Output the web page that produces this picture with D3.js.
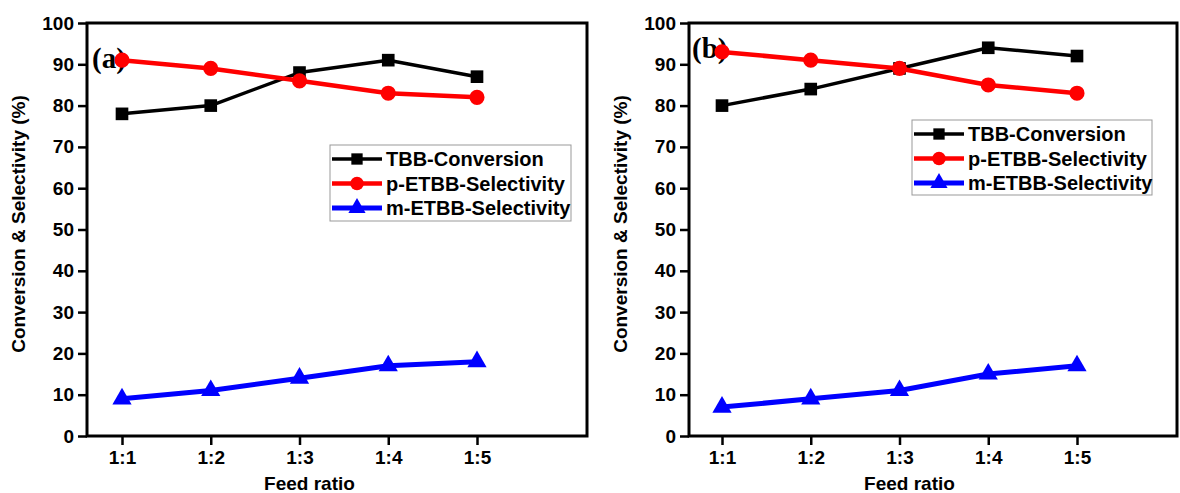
<!DOCTYPE html>
<html>
<head>
<meta charset="utf-8">
<script src="https://cdn.jsdelivr.net/npm/d3@7"></script>
<style>
  body { margin: 0; background: #fff; }
  text { font-family: "Liberation Sans", Arial, sans-serif; font-weight: bold; }
</style>
</head>
<body>
<div id="chart"></div>
<script>
// data
var ratios = ["1:1", "1:2", "1:3", "1:4", "1:5"];
var yTicks = [0, 10, 20, 30, 40, 50, 60, 70, 80, 90, 100];
var seriesNames = ["TBB-Conversion", "p-ETBB-Selectivity", "m-ETBB-Selectivity"];

var tbbA = [78, 80, 88, 91, 87];
var pEtbbA = [91, 89, 86, 83, 82];
var mEtbbA = [9, 11, 14, 17, 18];

var tbbB = [80, 84, 89, 94, 92];
var pEtbbB = [93, 91, 89, 85, 83];
var mEtbbB = [7, 9, 11, 15, 17];

var svgWidth = 1180;
var svgHeight = 493;

var svg = d3.select("#chart")
  .append("svg")
  .attr("width", svgWidth)
  .attr("height", svgHeight);

var styles = [
  { color: "#000000", width: 3.5, shape: d3.symbolSquare, size: 160 },
  { color: "#ff0000", width: 4.5, shape: d3.symbolCircle, size: 180 },
  { color: "#0000ff", width: 5, shape: d3.symbolTriangle, size: 160 }
];

var panels = [
  { label: "(a)", left: 87, right: 587, first: 122, last: 477, series: [tbbA, pEtbbA, mEtbbA],
    labelPos: [92, 68], legend: { x: 330, y: 145, w: 241, h: 76 } },
  { label: "(b)", left: 689, right: 1177, first: 722, last: 1077, series: [tbbB, pEtbbB, mEtbbB],
    labelPos: [692, 58], legend: { x: 912, y: 120, w: 240, h: 75 } }
];

var plotTop = 23;
var plotBottom = 436;

panels.forEach(function(p) {
  var g = svg.append("g");

  var x = d3.scaleLinear()
    .domain([1, 5])
    .range([p.first, p.last]);

  var y = d3.scaleLinear()
    .domain([0, 100])
    .range([plotBottom, plotTop]);

  // frame
  g.append("rect")
    .attr("x", p.left)
    .attr("y", plotTop)
    .attr("width", p.right - p.left)
    .attr("height", plotBottom - plotTop)
    .attr("fill", "none")
    .attr("stroke", "#000")
    .attr("stroke-width", 3);

  var yAxis = g.append("g")
    .attr("transform", `translate(${p.left},0)`)
    .call(d3.axisLeft(y).tickValues(yTicks).tickSize(9).tickPadding(4));

  var xAxis = g.append("g")
    .attr("transform", `translate(0,${plotBottom})`)
    .call(d3.axisBottom(x).tickValues([1, 2, 3, 4, 5])
      .tickFormat(function(d, i) { return ratios[i]; })
      .tickSize(9).tickPadding(6));

  [yAxis, xAxis].forEach(function(a) {
    a.select(".domain").remove();
    a.selectAll("line").attr("stroke", "#000").attr("stroke-width", 2.5);
    a.selectAll("text")
      .attr("fill", "#000")
      .style("font-size", "19px")
      .style("font-weight", "bold");
  });

  // axis titles
  g.append("text")
    .attr("transform", `translate(${p.left - 62},224) rotate(-90)`)
    .attr("text-anchor", "middle")
    .style("font-size", "19px")
    .text("Conversion & Selectivity (%)");

  g.append("text")
    .attr("x", (p.first + p.last) / 2 + 10)
    .attr("y", 490)
    .attr("text-anchor", "middle")
    .style("font-size", "19px")
    .text("Feed ratio");

  // panel label (under the markers)
  g.append("text")
    .attr("x", p.labelPos[0])
    .attr("y", p.labelPos[1])
    .style("font-family", "'Liberation Serif', 'Times New Roman', serif")
    .style("font-size", "29px")
    .text(p.label);

  // series
  p.series.forEach(function(vals, si) {
    var st = styles[si];
    var line = d3.line()
      .x(function(d, i) { return x(i + 1); })
      .y(function(d) { return y(d); });

    g.append("path")
      .datum(vals)
      .attr("fill", "none")
      .attr("stroke", st.color)
      .attr("stroke-width", st.width)
      .attr("stroke-linejoin", "round")
      .attr("d", line);

    g.selectAll(".pt" + si)
      .data(vals)
      .enter()
      .append("path")
      .attr("class", "pt" + si)
      .attr("transform", function(d, i) { return `translate(${x(i + 1)},${y(d)})`; })
      .attr("d", d3.symbol().type(st.shape).size(st.size))
      .attr("fill", st.color);
  });

  // legend
  var lg = g.append("g")
    .attr("transform", `translate(${p.legend.x},${p.legend.y})`);
  lg.append("rect")
    .attr("width", p.legend.w)
    .attr("height", p.legend.h)
    .attr("fill", "#fff")
    .attr("stroke", "#999")
    .attr("stroke-width", 1);

  seriesNames.forEach(function(name, si) {
    var st = styles[si];
    var cy = 14 + si * 24.5;
    lg.append("line")
      .attr("x1", 2).attr("x2", 52)
      .attr("y1", cy).attr("y2", cy)
      .attr("stroke", st.color)
      .attr("stroke-width", st.width);
    lg.append("path")
      .attr("transform", `translate(27,${cy})`)
      .attr("d", d3.symbol().type(st.shape).size(st.size * 0.8))
      .attr("fill", st.color);
    lg.append("text")
      .attr("x", 56)
      .attr("y", cy + 7)
      .style("font-size", "20px")
      .text(name);
  });
});
</script>
</body>
</html>
